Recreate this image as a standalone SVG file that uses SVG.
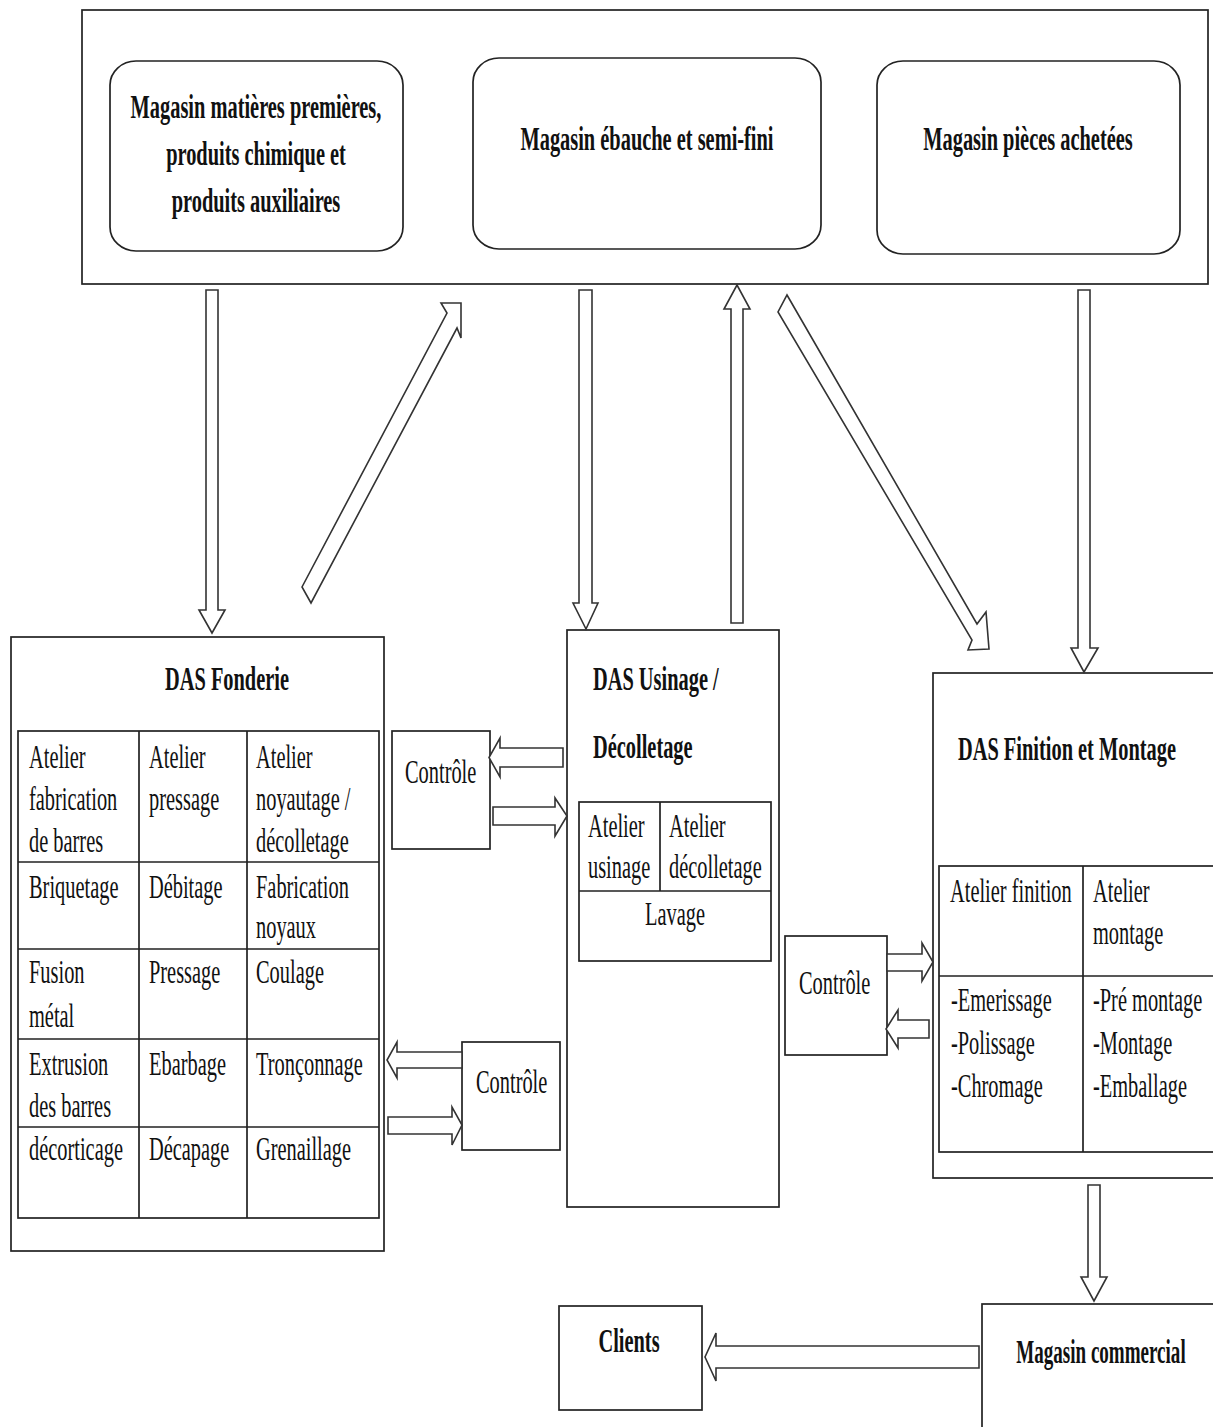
<svg xmlns="http://www.w3.org/2000/svg" width="1213" height="1427" viewBox="0 0 1213 1427">
<style>
text{font-family:"Liberation Serif","Times New Roman",serif;font-size:34px;fill:#111}
.b{font-weight:bold}
.m{text-anchor:middle}
.box{fill:#fff;stroke:#222;stroke-width:1.7}
.ln{stroke:#222;stroke-width:1.7;fill:none}
.arr{fill:#fff;stroke:#333;stroke-width:1.6;stroke-linejoin:miter}
</style>
<rect width="1213" height="1427" fill="#fff"/>

<g id="magasins">
<rect class="box" x="82" y="10" width="1126" height="274"/>
<g id="mag-matieres">
<rect class="box" x="110" y="61" width="293" height="190" rx="26" ry="24"/>
<text class="b m" transform="translate(256,118) scale(.6,1)">Magasin matières premières,</text>
<text class="b m" transform="translate(256,165) scale(.6,1)">produits chimique et</text>
<text class="b m" transform="translate(256,212) scale(.6,1)">produits auxiliaires</text>
</g>
<g id="mag-ebauche">
<rect class="box" x="473" y="58" width="348" height="191" rx="26" ry="24"/>
<text class="b m" transform="translate(647,150) scale(.6,1)">Magasin ébauche et semi-fini</text>
</g>
<g id="mag-pieces">
<rect class="box" x="877" y="61" width="303" height="193" rx="26" ry="24"/>
<text class="b m" transform="translate(1028,150) scale(.6,1)">Magasin pièces achetées</text>
</g>
</g>

<g id="das-fonderie">
<rect class="box" x="11" y="637" width="373" height="614"/>
<text class="b m" transform="translate(227,690) scale(.6,1)">DAS Fonderie</text>
<rect class="box" x="18" y="731" width="361" height="487"/>
<path class="ln" d="M18 862H379M18 949H379M18 1039H379M18 1127H379M139 731V1218M247 731V1218"/>
<text transform="translate(29,768) scale(.6,1)">Atelier</text>
<text transform="translate(29,810) scale(.6,1)">fabrication</text>
<text transform="translate(29,852) scale(.6,1)">de barres</text>
<text transform="translate(149,768) scale(.6,1)">Atelier</text>
<text transform="translate(149,810) scale(.6,1)">pressage</text>
<text transform="translate(256,768) scale(.6,1)">Atelier</text>
<text transform="translate(256,810) scale(.6,1)">noyautage /</text>
<text transform="translate(256,852) scale(.6,1)">décolletage</text>
<text transform="translate(29,898) scale(.6,1)">Briquetage</text>
<text transform="translate(149,898) scale(.6,1)">Débitage</text>
<text transform="translate(256,898) scale(.6,1)">Fabrication</text>
<text transform="translate(256,938) scale(.6,1)">noyaux</text>
<text transform="translate(29,983) scale(.6,1)">Fusion</text>
<text transform="translate(29,1027) scale(.6,1)">métal</text>
<text transform="translate(149,983) scale(.6,1)">Pressage</text>
<text transform="translate(256,983) scale(.6,1)">Coulage</text>
<text transform="translate(29,1075) scale(.6,1)">Extrusion</text>
<text transform="translate(29,1117) scale(.6,1)">des barres</text>
<text transform="translate(149,1075) scale(.6,1)">Ebarbage</text>
<text transform="translate(256,1075) scale(.6,1)">Tronçonnage</text>
<text transform="translate(29,1160) scale(.6,1)">décorticage</text>
<text transform="translate(149,1160) scale(.6,1)">Décapage</text>
<text transform="translate(256,1160) scale(.6,1)">Grenaillage</text>
</g>

<g id="controle-1">
<rect class="box" x="392" y="731" width="98" height="118"/>
<text transform="translate(405,783) scale(.6,1)">Contrôle</text>
</g>

<g id="controle-2">
<rect class="box" x="462" y="1042" width="98" height="108"/>
<text transform="translate(476,1093) scale(.6,1)">Contrôle</text>
</g>

<g id="das-usinage">
<rect class="box" x="567" y="630" width="212" height="577"/>
<text class="b" transform="translate(593,690) scale(.6,1)">DAS Usinage /</text>
<text class="b" transform="translate(593,758) scale(.6,1)">Décolletage</text>
<rect class="box" x="579" y="802" width="192" height="159"/>
<path class="ln" d="M579 891H771M660 802V891"/>
<text transform="translate(588,837) scale(.6,1)">Atelier</text>
<text transform="translate(588,878) scale(.6,1)">usinage</text>
<text transform="translate(669,837) scale(.6,1)">Atelier</text>
<text transform="translate(669,878) scale(.6,1)">décolletage</text>
<text class="m" transform="translate(675,925) scale(.6,1)">Lavage</text>
</g>

<g id="controle-3">
<rect class="box" x="785" y="936" width="102" height="119"/>
<text transform="translate(799,994) scale(.6,1)">Contrôle</text>
</g>

<g id="das-finition">
<rect class="box" x="933" y="673" width="300" height="505"/>
<text class="b" transform="translate(958,760) scale(.6,1)">DAS Finition et Montage</text>
<rect class="box" x="939" y="866" width="290" height="286"/>
<path class="ln" d="M939 976H1229M1083 866V1152"/>
<text transform="translate(950,902) scale(.6,1)">Atelier finition</text>
<text transform="translate(1093,902) scale(.6,1)">Atelier</text>
<text transform="translate(1093,944) scale(.6,1)">montage</text>
<text transform="translate(951,1011) scale(.6,1)">-Emerissage</text>
<text transform="translate(951,1054) scale(.6,1)">-Polissage</text>
<text transform="translate(951,1097) scale(.6,1)">-Chromage</text>
<text transform="translate(1093,1011) scale(.6,1)">-Pré montage</text>
<text transform="translate(1093,1054) scale(.6,1)">-Montage</text>
<text transform="translate(1093,1097) scale(.6,1)">-Emballage</text>
</g>

<g id="magasin-commercial">
<rect class="box" x="982" y="1304" width="260" height="140"/>
<text class="b m" transform="translate(1101,1363) scale(.56,1)">Magasin commercial</text>
</g>

<g id="clients">
<rect class="box" x="559" y="1306" width="143" height="104"/>
<text class="b m" transform="translate(629,1352) scale(.6,1)">Clients</text>
</g>

<g id="connectors">
<polygon class="arr" points="206,290 218,290 218,610 225,610 212,633 199,610 206,610"/>
<polygon class="arr" points="302,587 447,313 441,303 461,303 461,338 457,328 311,603"/>
<polygon class="arr" points="579,290 592,290 592,603 598,603 586,629 573,603 579,603"/>
<polygon class="arr" points="731,623 743,623 743,309 750,309 737,285 724,309 731,309"/>
<polygon class="arr" points="787,295 977,624 986,612 989,649 968,650 972,640 778,312"/>
<polygon class="arr" points="1078,290 1090,290 1090,648 1098,648 1084,672 1071,648 1078,648"/>
<polygon class="arr" points="1088,1185 1100,1185 1100,1277 1107,1277 1094,1301 1081,1277 1088,1277"/>
<polygon class="arr" points="979,1346 979,1368 716,1368 716,1381 705,1357 716,1333 716,1346"/>
<polygon class="arr" points="563,748 563,767 500,767 500,777 489,757.5 500,738 500,748"/>
<polygon class="arr" points="493,807 555,807 555,798 567,816 555,836 555,825 493,825"/>
<polygon class="arr" points="462,1052 462,1068 397,1068 397,1078 387,1060 397,1042 397,1052"/>
<polygon class="arr" points="388,1117 452,1117 452,1107 462,1125 452,1145 452,1134 388,1134"/>
<polygon class="arr" points="887,954 922,954 922,943 933,962 922,981 922,971 887,971"/>
<polygon class="arr" points="929,1020 929,1038 898,1038 898,1048 886,1029 898,1010 898,1020"/>
</g>
</svg>
